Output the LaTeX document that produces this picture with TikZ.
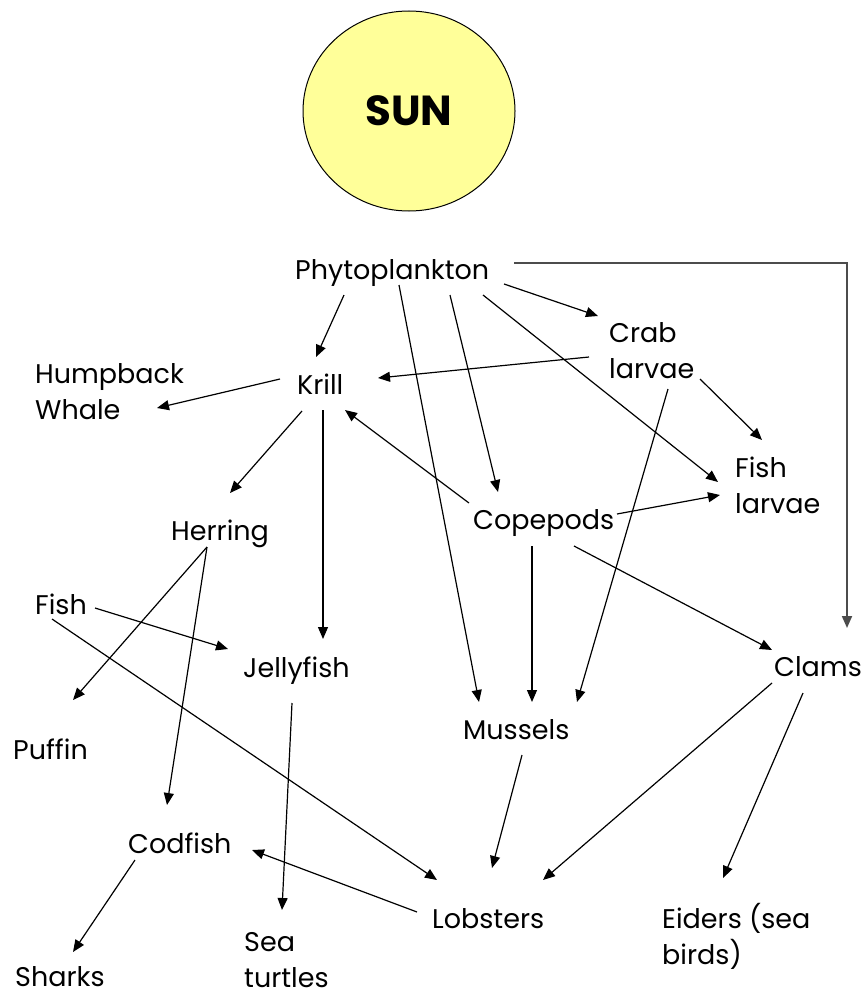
\documentclass[tikz,border=0pt]{standalone}
\usepackage{fontspec}
\setmainfont{Poppins}
\usetikzlibrary{arrows.meta,shapes.geometric}
\definecolor{sunfill}{HTML}{FFFF99}
\newcommand{\lblfont}{\fontsize{27}{36}\selectfont}
\begin{document}
\begin{tikzpicture}[x=1pt,y=-1pt,
  lbl/.style={anchor=base west, inner sep=0pt, font=\lblfont, align=left},
  arr/.style={-{Triangle[length=12pt,width=10pt]}, line width=1.2pt, black},
  garr/.style={-{Triangle[length=12pt,width=10pt]}, line width=1.8pt, black!70}]
\path[use as bounding box, fill=white] (0,0) rectangle (860,998);
% Sun
\node[ellipse, draw=black, line width=1pt, fill=sunfill, minimum width=212pt, minimum height=200pt,
      inner sep=0pt, font=\fontsize{42}{48}\selectfont\bfseries] (sun) at (409,111) {SUN};
% Labels (multi-line nodes are placed at the baseline of their last line)
\node[lbl] (phyto) at (295,279) {Phytoplankton};
\node[lbl] (crab) at (609,378) {Crab\\larvae};
\node[lbl] (hump) at (35,419) {Humpback\\Whale};
\node[lbl] (krill) at (297,394) {Krill};
\node[lbl] (flarv) at (735,513) {Fish\\larvae};
\node[lbl] (herring) at (171,540) {Herring};
\node[lbl] (cope) at (473,529) {Copepods};
\node[lbl] (fish) at (35,614) {Fish};
\node[lbl] (jelly) at (243,677) {Jellyfish};
\node[lbl] (clams) at (774,676) {Clams};
\node[lbl] (mussels) at (463,739) {Mussels};
\node[lbl] (puffin) at (13,759) {Puffin};
\node[lbl] (codfish) at (128,853) {Codfish};
\node[lbl] (lobsters) at (432,928) {Lobsters};
\node[lbl] (eiders) at (662,964) {Eiders (sea\\birds)};
\node[lbl] (sharks) at (15,986) {Sharks};
\node[lbl] (turtles) at (244,987) {Sea\\turtles};
% Connectors
\draw[arr] ([shift={(209,5)}]phyto.base west) -- ([shift={(-11,-62)}]crab.base west);
\draw[arr] ([shift={(49,16)}]phyto.base west) -- ([shift={(19,-37)}]krill.base west);
\draw[arr] ([shift={(104,6)}]phyto.base west) -- ([shift={(16,-37)}]mussels.base west);
\draw[arr] ([shift={(155,16)}]phyto.base west) -- ([shift={(25,-37)}]cope.base west);
\draw[arr] ([shift={(188,16)}]phyto.base west) -- ([shift={(-17,-31)}]flarv.base west);
\draw[garr] ([shift={(219,-16)}]phyto.base west) -| ([shift={(73,-48)}]clams.base west);
\draw[arr] ([shift={(-20,-21)}]crab.base west) -- ([shift={(81,-16)}]krill.base west);
\draw[arr] ([shift={(91,1)}]crab.base west) -- ([shift={(27,-73)}]flarv.base west);
\draw[arr] ([shift={(59,11)}]crab.base west) -- ([shift={(114,-37)}]mussels.base west);
\draw[arr] ([shift={(-17,-15)}]krill.base west) -- ([shift={(122,-11)}]hump.base west);
\draw[arr] ([shift={(5,17)}]krill.base west) -- ([shift={(59,-47)}]herring.base west);
\draw[arr] ([shift={(26,16)}]krill.base west) -- ([shift={(80,-38)}]jelly.base west);
\draw[arr] ([shift={(-4,-26)}]cope.base west) -- ([shift={(48,16)}]krill.base west);
\draw[arr] ([shift={(144,-15)}]cope.base west) -- ([shift={(-15,-18)}]flarv.base west);
\draw[arr] ([shift={(59,17)}]cope.base west) -- ([shift={(69,-37)}]mussels.base west);
\draw[arr] ([shift={(101,17)}]cope.base west) -- ([shift={(-2,-26)}]clams.base west);
\draw[arr] ([shift={(36,7)}]herring.base west) -- ([shift={(60,-59)}]puffin.base west);
\draw[arr] ([shift={(36,7)}]herring.base west) -- ([shift={(39,-48)}]codfish.base west);
\draw[arr] ([shift={(60,-6)}]fish.base west) -- ([shift={(-15,-28)}]jelly.base west);
\draw[arr] ([shift={(17,5)}]fish.base west) -- ([shift={(5,-48)}]lobsters.base west);
\draw[arr] ([shift={(49,26)}]jelly.base west) -- ([shift={(38,-77)}]turtles.base west);
\draw[arr] ([shift={(-2,7)}]clams.base west) -- ([shift={(111,-48)}]lobsters.base west);
\draw[arr] ([shift={(29,17)}]clams.base west) -- ([shift={(61,-86)}]eiders.base west);
\draw[arr] ([shift={(59,16)}]mussels.base west) -- ([shift={(60,-60)}]lobsters.base west);
\draw[arr] ([shift={(-15,-16)}]lobsters.base west) -- ([shift={(124,-3)}]codfish.base west);
\draw[arr] ([shift={(7,7)}]codfish.base west) -- ([shift={(58,-34)}]sharks.base west);
\end{tikzpicture}
\end{document}
